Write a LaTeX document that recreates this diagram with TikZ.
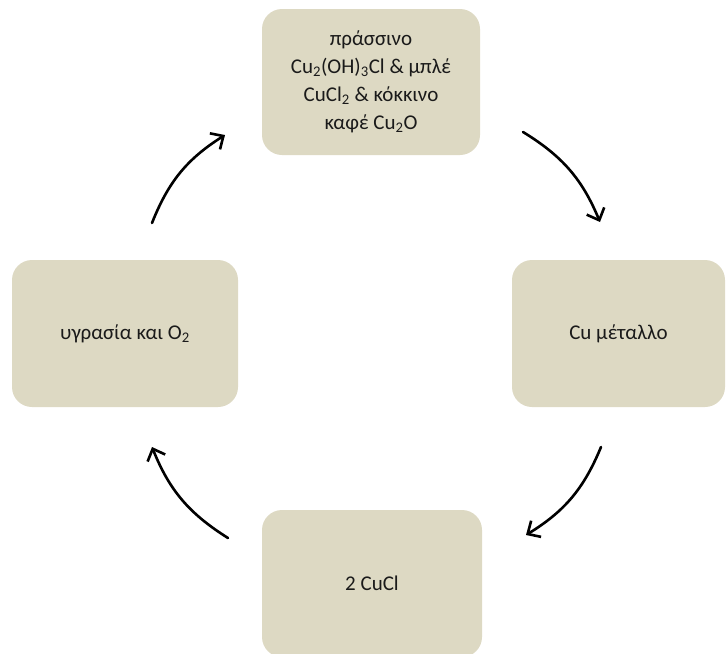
\documentclass[tikz,border=0pt]{standalone}
\usepackage{fontspec}
\setmainfont{Carlito}
\usepackage{tikz}
\usetikzlibrary{arrows.meta,positioning,calc}
\definecolor{clBox}{HTML}{DDD9C3}
\definecolor{clText}{HTML}{1A1A1A}
\tikzset{
  stage/.style={rectangle, rounded corners=20pt, fill=clBox, draw=none, align=center,
                inner sep=4pt, text=clText, font=\fontsize{21}{28}\selectfont},
  cycle/.style={-{Straight Barb[length=10pt,width=19pt]}, line width=2.6pt,
                line cap=round, draw=black, bend left=18},
}
\begin{document}
\begin{tikzpicture}[x=1pt, y=-1pt]
  \useasboundingbox (0,0) rectangle (727,653);
  \node[stage, minimum width=218pt, minimum height=146pt] (mix) at (371,82)
    {πράσσινο\\Cu\textsubscript{2}(OH)\textsubscript{3}Cl \& μπλέ\\CuCl\textsubscript{2} \& κόκκινο\\καφέ Cu\textsubscript{2}O};
  \node[stage, minimum width=213pt, minimum height=147pt] (metal) at (618.5,333.5) {Cu μέταλλο};
  \node[stage, minimum width=220pt, minimum height=147pt] (chloride) at (372,583.5) {2 CuCl};
  \node[stage, minimum width=226pt, minimum height=147pt] (moist) at (125,333.5) {υγρασία και O\textsubscript{2}};
  % arrow ends float between the boxes
  \coordinate (a1) at (152,223); \coordinate (b1) at (225,135);
  \coordinate (a2) at (523,132); \coordinate (b2) at (600,222);
  \coordinate (a3) at (601,447); \coordinate (b3) at (526,535);
  \coordinate (a4) at (228,538); \coordinate (b4) at (152,447);
  \draw[cycle] (a1) to (b1);
  \draw[cycle] (a2) to (b2);
  \draw[cycle] (a3) to (b3);
  \draw[cycle] (a4) to (b4);
\end{tikzpicture}
\end{document}
